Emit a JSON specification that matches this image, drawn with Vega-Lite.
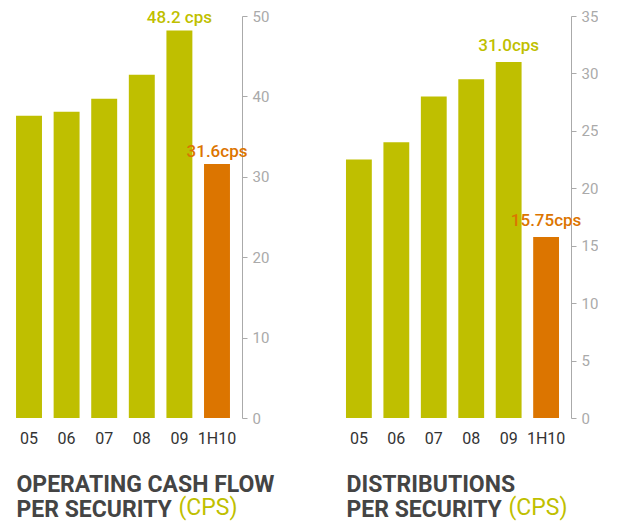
{
  "$schema": "https://vega.github.io/schema/vega-lite/v6.json",
  "background": "white",
  "padding": {"left": 4, "top": 9, "right": 0, "bottom": 0},
  "spacing": 92,
  "bounds": "flush",
  "config": {"view": {"stroke": null}, "font": "Roboto"},
  "hconcat": [
    {
      "width": 238,
      "height": 402,
      "data": {"values": [
        {"period": "05", "value": 37.6, "type": "full", "label": ""},
        {"period": "06", "value": 38.1, "type": "full", "label": ""},
        {"period": "07", "value": 39.7, "type": "full", "label": ""},
        {"period": "08", "value": 42.7, "type": "full", "label": ""},
        {"period": "09", "value": 48.2, "type": "full", "label": "48.2 cps"},
        {"period": "1H10", "value": 31.6, "type": "half", "label": "31.6cps"}
      ]},
      "encoding": {
        "x": {"field": "period", "type": "nominal", "sort": null,
          "scale": {"paddingInner": 0.31, "paddingOuter": 0.32},
          "axis": {"labelAngle": 0, "domain": false, "ticks": false, "labelColor": "#333333", "labelFontSize": 16, "labelPadding": 12,
            "title": ["OPERATING CASH FLOW", "PER SECURITY"], "titleFontSize": 23, "titleFontWeight": "bold", "titleColor": "#444444",
            "titleAlign": "left", "titleAnchor": "start", "titleBaseline": "alphabetic", "titleX": 12, "titleY": 73, "titleLineHeight": 25}},
        "y": {"field": "value", "type": "quantitative", "scale": {"domain": [0, 50]},
          "axis": {"orient": "right", "values": [0, 10, 20, 30, 40, 50], "grid": false, "domainColor": "#aaaaaa", "tickColor": "#aaaaaa", "tickSize": 5,
            "labelColor": "#aaaaaa", "labelFontSize": 15, "labelPadding": 5,
            "title": "(CPS)", "titleAngle": 0, "titleX": -64, "titleY": 498, "titleAlign": "left", "titleBaseline": "alphabetic",
            "titleColor": "#bfbf00", "titleFontSize": 23, "titleFontWeight": "normal"}}
      },
      "layer": [
        {"mark": {"type": "bar"},
          "encoding": {"color": {"field": "type", "type": "nominal", "scale": {"domain": ["full", "half"], "range": ["#bfbf00", "#dc7500"]}, "legend": null}}},
        {"mark": {"type": "text", "baseline": "alphabetic", "dy": -7, "fontSize": 17, "fontWeight": 500},
          "encoding": {"text": {"field": "label"},
            "color": {"field": "type", "type": "nominal", "scale": {"domain": ["full", "half"], "range": ["#bfbf00", "#dc7500"]}, "legend": null}}}
      ]
    },
    {
      "width": 237,
      "height": 402,
      "data": {"values": [
        {"period": "05", "value": 22.5, "type": "full", "label": ""},
        {"period": "06", "value": 24.0, "type": "full", "label": ""},
        {"period": "07", "value": 28.0, "type": "full", "label": ""},
        {"period": "08", "value": 29.5, "type": "full", "label": ""},
        {"period": "09", "value": 31.0, "type": "full", "label": "31.0cps"},
        {"period": "1H10", "value": 15.75, "type": "half", "label": "15.75cps"}
      ]},
      "encoding": {
        "x": {"field": "period", "type": "nominal", "sort": null,
          "scale": {"paddingInner": 0.31, "paddingOuter": 0.32},
          "axis": {"labelAngle": 0, "domain": false, "ticks": false, "labelColor": "#333333", "labelFontSize": 16, "labelPadding": 12,
            "title": ["DISTRIBUTIONS", "PER SECURITY"], "titleFontSize": 23, "titleFontWeight": "bold", "titleColor": "#444444",
            "titleAlign": "left", "titleAnchor": "start", "titleBaseline": "alphabetic", "titleX": 12, "titleY": 73, "titleLineHeight": 25}},
        "y": {"field": "value", "type": "quantitative", "scale": {"domain": [0, 35]},
          "axis": {"orient": "right", "values": [0, 5, 10, 15, 20, 25, 30, 35], "grid": false, "domainColor": "#aaaaaa", "tickColor": "#aaaaaa", "tickSize": 5,
            "labelColor": "#aaaaaa", "labelFontSize": 15, "labelPadding": 5,
            "title": "(CPS)", "titleAngle": 0, "titleX": -63, "titleY": 498, "titleAlign": "left", "titleBaseline": "alphabetic",
            "titleColor": "#bfbf00", "titleFontSize": 23, "titleFontWeight": "normal"}}
      },
      "layer": [
        {"mark": {"type": "bar"},
          "encoding": {"color": {"field": "type", "type": "nominal", "scale": {"domain": ["full", "half"], "range": ["#bfbf00", "#dc7500"]}, "legend": null}}},
        {"mark": {"type": "text", "baseline": "alphabetic", "dy": -11, "fontSize": 17, "fontWeight": 500},
          "encoding": {"text": {"field": "label"},
            "color": {"field": "type", "type": "nominal", "scale": {"domain": ["full", "half"], "range": ["#bfbf00", "#dc7500"]}, "legend": null}}}
      ]
    }
  ]
}
